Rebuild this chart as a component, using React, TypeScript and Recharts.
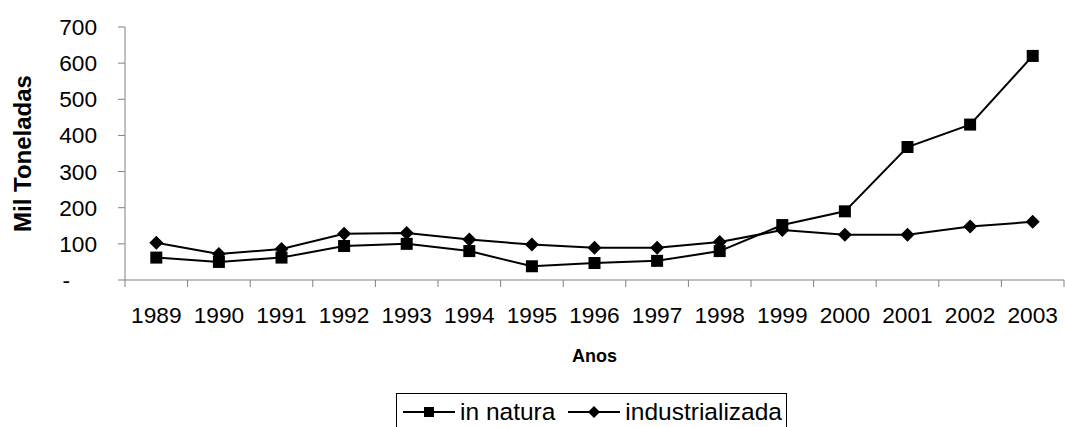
import React from "react";
import { Legend, Line, LineChart, XAxis, YAxis } from "recharts";

const years = ["1989", "1990", "1991", "1992", "1993", "1994", "1995", "1996", "1997", "1998", "1999", "2000", "2001", "2002", "2003"];
const inNatura = [62, 50, 62, 94, 100, 80, 38, 47, 53, 80, 152, 190, 368, 430, 620];
const industrializada = [103, 72, 86, 128, 130, 112, 98, 89, 89, 105, 138, 125, 125, 148, 161];
const yTicks = [0, 100, 200, 300, 400, 500, 600, 700];

const data = years.map((year, i) => ({
  x: i,
  year,
  inNatura: inNatura[i],
  industrializada: industrializada[i]
}));

const FONT = "'Liberation Sans', Arial, sans-serif";
const AXIS = "#808080";

const Square = (props: any) => {
  const { cx, cy } = props;
  if (cx == null || cy == null) return null;
  return <rect x={cx - 6} y={cy - 6} width={12} height={12} fill="#000" />;
};

const Diamond = (props: any) => {
  const { cx, cy } = props;
  if (cx == null || cy == null) return null;
  return <polygon points={`${cx},${cy - 7} ${cx + 7},${cy} ${cx},${cy + 7} ${cx - 7},${cy}`} fill="#000" />;
};

// year label at the centre, tick mark at the category boundary
const XTick = (props: any) => {
  const { x, y, payload, width } = props;
  const half = (Number(width) || 939) / years.length / 2;
  const idx = payload.value as number;
  return (
    <g>
      <line x1={x - half} x2={x - half} y1={y - 27} y2={y - 20} stroke={AXIS} />
      {idx === years.length - 1 && <line x1={x + half} x2={x + half} y1={y - 27} y2={y - 20} stroke={AXIS} />}
      <text x={x} y={y} dy="0.71em" textAnchor="middle" fontSize={22.7} fontFamily={FONT} fill="#000">
        {years[idx]}
      </text>
    </g>
  );
};

const YTick = (props: any) => {
  const { x, y, payload } = props;
  const zero = payload.value === 0;
  return (
    <text x={zero ? x - 27 : x} y={y} dy="0.355em" textAnchor="end" fontSize={22.7} fontFamily={FONT} fill="#000">
      {zero ? "-" : payload.value}
    </text>
  );
};

const LegendBox = () => {
  const item = (label: string, marker: React.ReactNode, gapAfter: number) => (
    <span style={{ display: "inline-flex", alignItems: "center", marginRight: gapAfter }}>
      <svg width={52} height={20} style={{ marginRight: 5 }}>
        <line x1={0} x2={52} y1={10} y2={10} stroke="#000" strokeWidth={2} />
        {marker}
      </svg>
      <span>{label}</span>
    </span>
  );
  return (
    <div
      style={{
        border: "1px solid #000",
        padding: "4px 0 6px 6px",
        fontFamily: FONT,
        fontSize: 24.5,
        lineHeight: "28px",
        whiteSpace: "nowrap",
        display: "flex",
        alignItems: "center",
        background: "#fff",
        boxSizing: "border-box",
        width: 391
      }}
    >
      {item("in natura", <rect x={21} y={5} width={10} height={10} fill="#000" />, 13)}
      {item("industrializada", <polygon points="26,4 32,10 26,16 20,10" fill="#000" />, 0)}
    </div>
  );
};

export default function App() {
  return (
    <div style={{ position: "absolute", left: 0, top: 0, background: "#fff" }}>
      <LineChart width={1065} height={427} data={data} margin={{ top: 27, right: 1, bottom: 0, left: 0 }}>
        <XAxis
          dataKey="x"
          type="number"
          domain={[-0.5, 14.5]}
          ticks={data.map((d) => d.x)}
          tick={<XTick />}
          tickLine={false}
          tickSize={7}
          tickMargin={20}
          height={147}
          stroke={AXIS}
          interval={0}
          label={{
            content: (p: any) => {
              const vb = p.viewBox || {};
              return (
                <text
                  x={vb.x + vb.width / 2}
                  y={vb.y + 76}
                  dy="0.355em"
                  textAnchor="middle"
                  fontSize={18}
                  fontWeight="bold"
                  fontFamily={FONT}
                  fill="#000"
                >
                  Anos
                </text>
              );
            }
          }}
        />
        <YAxis
          domain={[0, 700]}
          ticks={yTicks}
          tick={<YTick />}
          tickSize={7}
          tickMargin={21}
          width={125}
          stroke={AXIS}
          interval={0}
          label={{
            content: (p: any) => {
              const vb = p.viewBox || {};
              const cx = vb.x + 22;
              const cy = vb.y + vb.height / 2;
              return (
                <text
                  x={cx}
                  y={cy}
                  dy="0.355em"
                  textAnchor="middle"
                  transform={`rotate(-90 ${cx} ${cy})`}
                  fontSize={24}
                  fontWeight="bold"
                  fontFamily={FONT}
                  fill="#000"
                >
                  Mil Toneladas
                </text>
              );
            }
          }}
        />
        <Legend
          layout="horizontal"
          verticalAlign="middle"
          align="center"
          content={<LegendBox />}
          wrapperStyle={{ position: "absolute", left: 396, top: 393, width: 391 }}
        />
        <Line
          dataKey="inNatura"
          name="in natura"
          stroke="#000"
          strokeWidth={2}
          dot={<Square />}
          activeDot={false}
          isAnimationActive={false}
        />
        <Line
          dataKey="industrializada"
          name="industrializada"
          stroke="#000"
          strokeWidth={2}
          dot={<Diamond />}
          activeDot={false}
          isAnimationActive={false}
        />
      </LineChart>
    </div>
  );
}
